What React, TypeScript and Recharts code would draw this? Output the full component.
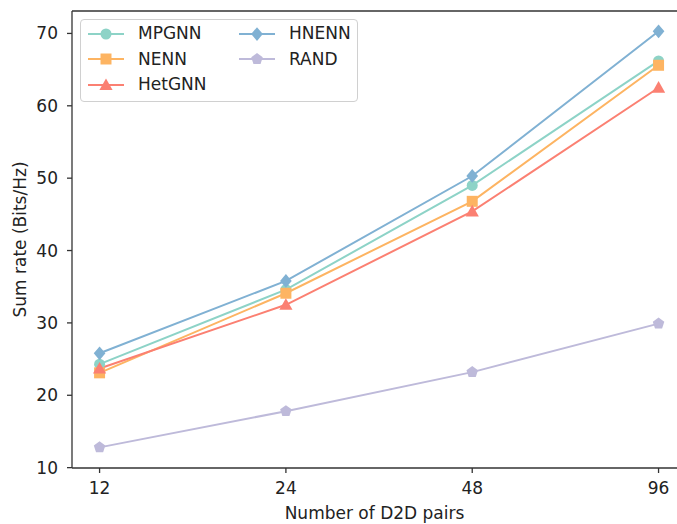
import React from 'react';
import { LineChart, Line, XAxis, YAxis, ReferenceLine } from 'recharts';

const categories = ['12', '24', '48', '96'];
const mpgnn = [24.3, 34.6, 49.0, 66.2];
const nenn = [23.1, 34.1, 46.8, 65.6];
const hetgnn = [23.7, 32.5, 45.4, 62.5];
const hnenn = [25.8, 35.8, 50.3, 70.3];
const rand = [12.8, 17.8, 23.2, 29.9];

const yTicks = [10, 20, 30, 40, 50, 60, 70];

const data = categories.map((c, i) => ({
  i,
  cat: c,
  MPGNN: mpgnn[i],
  NENN: nenn[i],
  HetGNN: hetgnn[i],
  HNENN: hnenn[i],
  RAND: rand[i],
}));

type Shape = 'circle' | 'square' | 'triangle' | 'diamond' | 'pentagon';

const seriesDefs: { key: string; color: string; shape: Shape }[] = [
  { key: 'MPGNN', color: '#8dd3c7', shape: 'circle' },
  { key: 'NENN', color: '#fdb462', shape: 'square' },
  { key: 'HetGNN', color: '#fb8072', shape: 'triangle' },
  { key: 'HNENN', color: '#80b1d3', shape: 'diamond' },
  { key: 'RAND', color: '#bebada', shape: 'pentagon' },
];

function markerPath(shape: Shape, cx: number, cy: number, r: number): string {
  if (shape === 'square') {
    return `M${cx - r},${cy - r}H${cx + r}V${cy + r}H${cx - r}Z`;
  }
  if (shape === 'triangle') {
    const h = r * 1.2;
    return `M${cx},${cy - h}L${cx + h},${cy + h * 0.75}L${cx - h},${cy + h * 0.75}Z`;
  }
  if (shape === 'diamond') {
    const d = r * 1.25;
    return `M${cx},${cy - d}L${cx + d * 0.85},${cy}L${cx},${cy + d}L${cx - d * 0.85},${cy}Z`;
  }
  if (shape === 'pentagon') {
    const pts: string[] = [];
    for (let k = 0; k < 5; k++) {
      const a = -Math.PI / 2 + (k * 2 * Math.PI) / 5;
      pts.push(`${cx + r * 1.1 * Math.cos(a)},${cy + r * 1.1 * Math.sin(a)}`);
    }
    return `M${pts.join('L')}Z`;
  }
  return `M${cx - r},${cy}a${r},${r} 0 1,0 ${2 * r},0a${r},${r} 0 1,0 ${-2 * r},0Z`;
}

const makeDot = (shape: Shape, color: string) => (props: any) => {
  const { cx, cy, index } = props;
  if (cx == null || cy == null) return <g key={index} />;
  return <path key={index} d={markerPath(shape, cx, cy, 5.5)} fill={color} stroke="none" />;
};

const LegendBox = () => {
  const item = (s: { key: string; color: string; shape: Shape }) => (
    <div key={s.key} style={{ display: 'flex', alignItems: 'center', height: 25.5 }}>
      <svg width={40} height={16} style={{ marginRight: 12, flex: 'none' }}>
        <line x1={2} y1={8} x2={38} y2={8} stroke={s.color} strokeWidth={2} />
        <path d={markerPath(s.shape, 20, 8, 5.5)} fill={s.color} />
      </svg>
      <span style={{ whiteSpace: 'nowrap' }}>{s.key}</span>
    </div>
  );
  return (
    <div
      style={{
        position: 'absolute',
        left: 80,
        top: 19,
        border: '1px solid #d0d0d0',
        borderRadius: 4,
        background: 'rgba(255,255,255,0.85)',
        padding: '1px 0 3px 5px',
        display: 'flex',
        fontFamily: 'DejaVu Sans',
        fontSize: 17,
        lineHeight: 1,
        color: '#222',
        width: 278,
        boxSizing: 'border-box',
      }}
    >
      <div style={{ width: 151 }}>{seriesDefs.slice(0, 3).map(item)}</div>
      <div>{seriesDefs.slice(3).map(item)}</div>
    </div>
  );
};

export default function App() {
  const axisColor = '#333';
  const tickStyle = { fill: '#222', fontSize: 17, fontFamily: 'DejaVu Sans' };
  return (
    <div style={{ position: 'absolute', left: 0, top: 0, width: 677, height: 524, background: '#fff' }}>
      <LineChart
        width={677}
        height={524}
        data={data}
        margin={{ top: 11, right: 0, left: 0, bottom: 0 }}
      >
        <XAxis
          dataKey="i"
          type="number"
          domain={[-0.148, 3.099]}
          ticks={[0, 1, 2, 3]}
          tickFormatter={(v: number) => categories[v]}
          height={56}
          tickSize={5}
          tickMargin={9}
          stroke={axisColor}
          strokeWidth={1.3}
          tick={tickStyle}
          allowDataOverflow
          label={{
            value: 'Number of D2D pairs',
            position: 'insideBottom',
            offset: 5,
            style: { fill: '#222', fontSize: 17, fontFamily: 'DejaVu Sans' },
          }}
        />
        <YAxis
          type="number"
          domain={[9.95, 73.1]}
          ticks={yTicks}
          width={72}
          tickSize={5}
          tickMargin={9}
          stroke={axisColor}
          strokeWidth={1.3}
          tick={tickStyle}
          allowDataOverflow
          label={{
            value: 'Sum rate (Bits/Hz)',
            angle: -90,
            position: 'insideLeft',
            offset: 20,
            style: { textAnchor: 'middle', fill: '#222', fontSize: 17, fontFamily: 'DejaVu Sans' },
          }}
        />
        <ReferenceLine y={73.1} stroke={axisColor} strokeWidth={1.5} ifOverflow="visible" />
        {seriesDefs.map((s) => (
          <Line
            key={s.key}
            dataKey={s.key}
            stroke={s.color}
            strokeWidth={2}
            dot={makeDot(s.shape, s.color)}
            activeDot={false}
            isAnimationActive={false}
          />
        ))}
      </LineChart>
      <LegendBox />
    </div>
  );
}
